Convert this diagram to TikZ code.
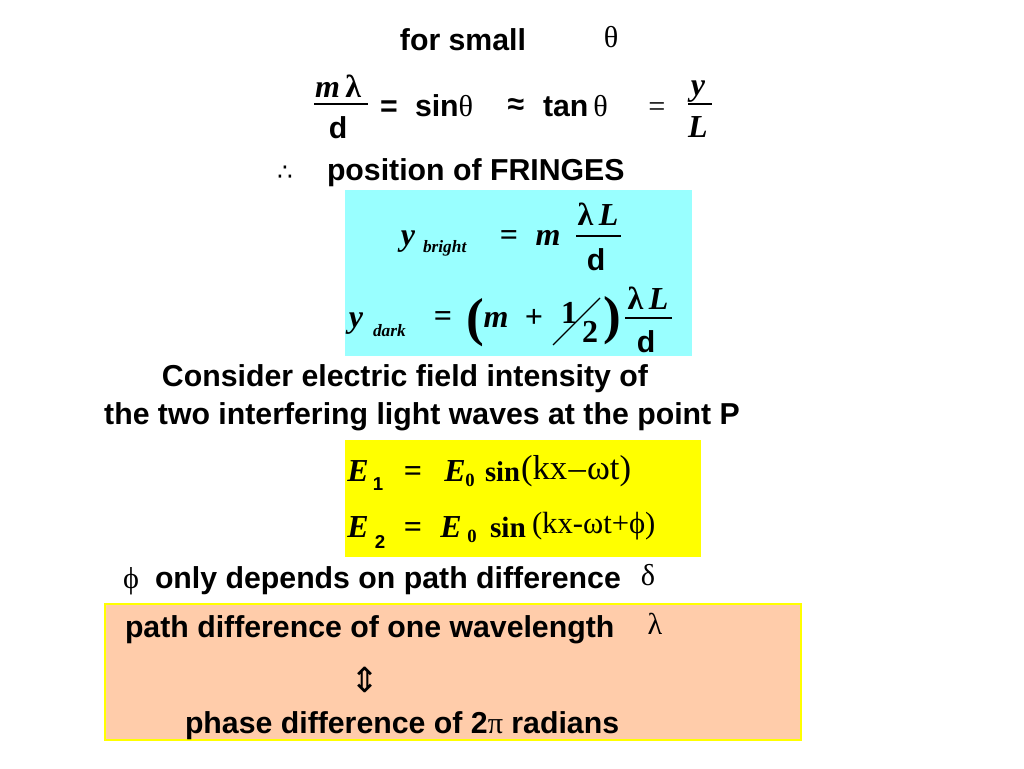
\documentclass[tikz,border=0pt]{standalone}
\usepackage{fontspec}
\setmainfont{Liberation Serif}
\newfontfamily\ar{Liberation Sans}
\newfontfamily\dv{DejaVu Sans}
\definecolor{cyanbox}{RGB}{153,255,255}
\definecolor{yelbox}{RGB}{255,255,0}
\definecolor{peach}{RGB}{255,204,170}
\begin{document}
\begin{tikzpicture}[x=0.75pt,y=-0.75pt,
  every node/.style={inner sep=0pt,outer sep=0pt},
  sb/.style={font=\ar\bfseries\fontsize{22.7}{27}\selectfont},
  gr/.style={font=\fontsize{22.7}{27}\selectfont},
  mi/.style={font=\bfseries\itshape\fontsize{24}{28}\selectfont},
  sub/.style={font=\bfseries\itshape\fontsize{13}{15}\selectfont},
  ssub/.style={font=\ar\bfseries\fontsize{14}{16}\selectfont},
  tsub/.style={font=\bfseries\fontsize{14}{16}\selectfont},
  bs/.style={font=\bfseries\fontsize{24}{28}\selectfont},
  rs/.style={font=\fontsize{26}{30}\selectfont}]
\useasboundingbox (0,0) rectangle (1024,768);
% top
\node[sb,anchor=base] (forsmall) at (463,50) {for small};
\node[gr,anchor=base] (th0) at (611,47) {θ};
\node[mi,anchor=base] (ml) at (338,97) {m\,\upshape λ};
\coordinate (f1a) at (314,104); \coordinate (f1b) at (368,104);
\draw[line width=1pt] (f1a) -- (f1b);
\node[sb,anchor=base] (d1) at (338,138) {d};
\node[sb,anchor=base] (eq1) at (389,116) {=};
\node[sb,anchor=base west] (sin) at (415,116) {sin\normalfont\fontsize{22.7}{27}\selectfont θ};
\node[sb,anchor=base] (approx) at (516,114) {≈};
\node[sb,anchor=base west] (tan) at (543,116) {tan\,\normalfont\fontsize{22.7}{27}\selectfont θ};
\node[gr,anchor=base] (eq2) at (657,116) {=};
\node[mi,anchor=base] (y1) at (698,95) {y};
\coordinate (f2a) at (688,104); \coordinate (f2b) at (712,104);
\draw[line width=1pt] (f2a) -- (f2b);
\node[mi,anchor=base] (L1) at (698,137) {L};
\node[font=\dv\fontsize{18}{22}\selectfont,anchor=base] (therefore) at (285,180) {∴};
\node[sb,anchor=base west] (pos) at (327,180) {position of FRINGES};
% cyan box
\fill[cyanbox] (345,190) rectangle (692,356);
\node[mi,anchor=base] (yb) at (408,245) {y};
\node[sub,anchor=base west] (bright) at (423,252) {bright};
\node[bs,anchor=base] (eq3) at (509,245) {=};
\node[mi,anchor=base] (mb) at (548,245) {m};
\node[mi,anchor=base] (lL1) at (598,225) {\upshape λ\,\itshape L};
\coordinate (f3a) at (576,236); \coordinate (f3b) at (621,236);
\draw[line width=1pt] (f3a) -- (f3b);
\node[sb,anchor=base] (d2) at (596,270) {d};
\node[mi,anchor=base] (yd) at (356,327) {y};
\node[sub,anchor=base west] (dark) at (373,336) {dark};
\node[bs,anchor=base] (eq4) at (443,326) {=};
\node[font=\bfseries\fontsize{40}{44}\selectfont,anchor=base] (lp) at (475,335) {(};
\node[mi,anchor=base] (md) at (496,327) {m};
\node[bs,anchor=base] (plus) at (534,327) {+};
\node[bs,anchor=base] (one) at (569,323) {1};
\coordinate (sl1) at (553,345); \coordinate (sl2) at (600,298);
\draw[line width=1pt] (sl1) -- (sl2);
\node[bs,anchor=base] (two) at (590,342) {2};
\node[font=\bfseries\fontsize{40}{44}\selectfont,anchor=base] (rp) at (612,333) {)};
\node[mi,anchor=base] (lL2) at (648,309) {\upshape λ\,\itshape L};
\coordinate (f4a) at (625,318); \coordinate (f4b) at (672,318);
\draw[line width=1pt] (f4a) -- (f4b);
\node[sb,anchor=base] (d3) at (646,352) {d};
% consider
\node[sb,anchor=base] (cons) at (405,386) {Consider electric field intensity of};
\node[sb,anchor=base] (twol) at (422,424) {the two interfering light waves at the point P};
% yellow box
\fill[yelbox] (345,440) rectangle (701,557);
\node[mi,anchor=base] (E1) at (358,481) {E};
\node[ssub,anchor=base] (s1) at (378,490) {1};
\node[bs,anchor=base] (eq5) at (413,481) {=};
\node[mi,anchor=base] (E01) at (455,481) {E};
\node[tsub,anchor=base] (z1) at (470,486) {0};
\node[font=\bfseries\fontsize{21.5}{26}\selectfont,anchor=base west] (sin1) at (485,481) {sin};
\node[rs,anchor=base west] (arg1) at (521,479) {(kx\kern1pt–\kern1ptωt)};
\node[mi,anchor=base] (E2) at (358,537) {E};
\node[ssub,anchor=base] (s2) at (380,548) {2};
\node[bs,anchor=base] (eq6) at (413,537) {=};
\node[mi,anchor=base] (E02) at (451,537) {E};
\node[tsub,anchor=base] (z2) at (472,542) {0};
\node[font=\bfseries\fontsize{22}{26}\selectfont,anchor=base west] (sin2) at (490,537) {sin};
\node[font=\fontsize{23}{27}\selectfont,anchor=base west] (arg2) at (532,533) {(kx-ωt+ϕ)};
% phi line
\node[gr,anchor=base] (phi) at (131,588) {ϕ};
\node[sb,anchor=base west] (only) at (155,588) {only depends on path difference};
\node[gr,anchor=base] (delta) at (648,585) {δ};
% peach box
\draw[peach,fill=peach] (105,604) rectangle (801,740);
\draw[yelbox,line width=1.5pt] (105,604) rectangle (801,740);
\node[sb,anchor=base west] (pd) at (125,637) {path difference of one wavelength};
\node[gr,anchor=base] (lam) at (655,634) {λ};
\node[font=\dv\fontsize{26}{30}\selectfont,anchor=center] (arr) at (365,680) {⇕};
\node[sb,anchor=base west] (ph) at (185,733) {phase difference of 2\normalfont\fontsize{22.7}{27}\selectfont π\ar\bfseries{} radians};
\end{tikzpicture}
\end{document}
